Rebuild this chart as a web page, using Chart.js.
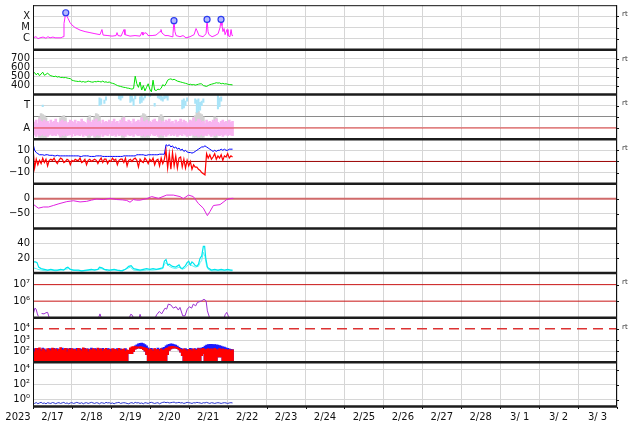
<!DOCTYPE html>
<html><head><meta charset="utf-8">
<script src="https://cdn.jsdelivr.net/npm/chart.js@4/dist/chart.umd.min.js"></script>
<style>html,body{margin:0;padding:0;background:#fff;}#wrap{position:relative;width:634px;height:424px;}</style>
</head><body><div id="wrap"><canvas id="c" width="634" height="424"></canvas></div>
<script>
// ---------- x axis ----------
const yearLabel = '2023';
const dayLabels = ['2/17','2/18','2/19','2/20','2/21','2/22','2/23','2/24','2/25','2/26','2/27','2/28','3/ 1','3/ 2','3/ 3'];
const rtText = 'rt';

// ---------- panel 1: X-ray flux (hours since 2/17 00:00, W/m2) ----------
const xrayT = [0,1.85,3.1,4.3,6.2,8.0,9.2,10.5,12.3,13.6,15.4,17.3,18.5,19.1,20.2,21.0,21.6,22.8,24.0,25.9,29.0,32.1,35.1,38.2,41.3,42.5,43.2,46.2,48.7,51.2,51.8,52.4,54.3,56.1,56.7,59.8,62.9,66.0,67.2,67.8,69.0,70.3,70.9,73.4,75.8,78.3,78.9,79.5,81.4,83.2,85.7,86.3,86.9,87.5,88.2,90.6,92.5,94.3,96.8,99.3,100.5,101.1,102.3,104.8,106.7,107.3,107.9,108.5,110.4,112.2,114.1,115.3,115.9,116.5,117.1,117.8,118.4,119.6,120.2,121.4,122.1,122.7,123.3];
const xrayV = [1.2e-6,1.5e-6,1.0e-6,1.2e-6,1.4e-6,1.1e-6,1.5e-6,1.2e-6,1.4e-6,1.2e-6,1.2e-6,1.2e-6,1.5e-6,2.3e-5,2.1e-4,1.0e-4,6.6e-5,2.8e-5,1.7e-5,1.0e-5,5.9e-6,4.3e-6,3.5e-6,2.8e-6,2.3e-6,6.6e-6,2.1e-6,1.9e-6,1.7e-6,1.9e-6,3.5e-6,1.9e-6,1.7e-6,6.6e-6,2.3e-6,1.7e-6,1.9e-6,1.7e-6,3.9e-6,2.1e-6,3.5e-6,2.8e-6,1.9e-6,1.9e-6,2.1e-6,4.3e-6,6.6e-6,3.2e-6,1.9e-6,1.9e-6,1.5e-6,2.8e-6,4.1e-5,4.3e-6,1.9e-6,1.5e-6,1.9e-6,1.2e-6,1.5e-6,2.3e-6,8.1e-6,5.3e-6,1.9e-6,1.5e-6,2.8e-6,5.3e-5,4.3e-6,2.3e-6,1.5e-6,1.9e-6,2.8e-6,1.0e-5,5.3e-5,1.5e-5,4.3e-6,8.1e-6,2.3e-6,6.6e-6,1.9e-6,1.5e-6,6.6e-6,1.9e-6,1.9e-6];
const flareT = [20.2,86.9,107.3,115.9];
const flareV = [2.1e-4,4.1e-5,5.3e-5,5.3e-5];
const xrayTicks = [1e-4,1e-5,1e-6];
const xrayTickLabels = ['X','M','C'];

// ---------- panel 2: solar wind speed (hourly, km/s) ----------
const speedV = [530,545,520,540,510,530,550,515,525,540,520,
510,505,500,505,495,500,490,492,488,490,485,480,478,460,
455,450,448,445,450,440,445,438,442,450,445,440,438,445,442,448,
445,440,450,438,442,435,440,430,425,420,
410,400,395,390,385,380,378,372,370,365,
360,368,505,420,380,440,350,400,340,380,
420,360,330,460,350,345,360,355,370,410,
395,420,460,470,475,465,470,460,450,445,
440,435,430,425,420,410,415,408,412,405,
410,415,420,418,400,395,390,400,410,415,
420,425,432,428,430,420,425,418,420,415,412,410,408];
const speedTicks = [400,500,600,700];

// ---------- panel 3: T / A activity (hourly ranges) ----------
const taPinkHi = [1.6,1.5,1.7,1.4,1.8,1.6,1.5,1.7,1.5,1.6,1.4,1.7,1.5,1.6,1.8,1.5,1.4,1.6,1.7,1.5,
1.6,1.4,1.5,1.7,1.6,1.5,1.7,1.4,1.6,1.5,1.8,1.6,1.5,1.4,1.7,1.6,1.5,1.7,1.6,1.8,
1.5,1.6,1.4,1.7,1.5,1.6,1.5,1.7,1.4,1.6,1.8,1.5,1.6,1.4,1.7,1.5,1.9,1.6,1.5,1.7,
1.6,1.4,1.8,1.5,1.6,1.7,1.5,1.9,1.6,1.5,1.7,1.4,1.6,1.5,1.7,1.8,1.6,1.5,1.7,1.4,
1.6,1.5,1.7,1.6,1.8,1.5,1.6,1.4,1.7,1.5,1.6,1.8,1.5,1.7,1.6,1.4,1.5,1.7,1.6,1.9,
1.5,1.6,1.8,1.7,1.5,1.6,1.4,1.7,1.5,1.6,1.5,1.7,1.6,1.8,1.5,1.4,1.6,1.7,1.5,1.6,
1.4,1.7,1.5,1.6];
const taPinkLo = [0.3,0.4,0.25,0.45,0.3,0.35,0.5,0.3,0.4,0.25,0.35,0.45,0.3,0.4,0.3,0.5,0.35,0.25,0.4,0.3,
0.45,0.3,0.35,0.4,0.25,0.5,0.3,0.4,0.35,0.3,0.45,0.25,0.4,0.3,0.35,0.5,0.3,0.4,0.25,0.35,
0.4,0.3,0.45,0.25,0.35,0.4,0.3,0.5,0.35,0.3,0.4,0.25,0.45,0.3,0.35,0.4,0.3,0.25,0.45,0.35,
0.3,0.4,0.25,0.5,0.35,0.3,0.4,0.3,0.45,0.25,0.35,0.4,0.3,0.5,0.35,0.3,0.4,0.25,0.35,0.45,
0.3,0.4,0.25,0.35,0.5,0.3,0.4,0.3,0.45,0.25,0.35,0.4,0.3,0.5,0.35,0.25,0.4,0.3,0.45,0.35,
0.3,0.4,0.25,0.35,0.45,0.3,0.4,0.3,0.5,0.35,0.25,0.4,0.3,0.45,0.35,0.3,0.4,0.25,0.35,0.45,
0.3,0.4,0.35,0.3];
const taGrayT  = [4,5,6,7,8,17,18,19,20,34,35,38,39,40,41,55,56,67,68,69,70,71,78,79,80,99,100,101,102,103,104,105,112,113];
const taGrayHi = [2.0,2.3,2.2,2.1,1.9,1.9,2.0,2.1,1.9,1.9,2.1,2.0,2.3,2.2,2.0,1.9,2.0,2.1,2.3,2.2,2.0,1.9,2.0,2.2,2.0,1.9,2.1,2.4,2.5,2.3,2.2,2.0,2.0,1.9];
const taGrayLo = [0.15,0.15,0.15,0.15,0.15,0.15,0.15,0.15,0.15,0.15,0.15,0.15,0.15,0.15,0.15,0.15,0.15,0.15,0.15,0.15,0.15,0.15,0.15,0.15,0.15,0.15,0.15,0.15,0.15,0.15,0.15,0.15,0.15,0.15];
const taBlueT  = [6,41,42,44,45,53,54,55,60,61,62,63,66,67,68,69,72,75,77,78,79,80,81,82,83,92,93,94,95,100,101,102,103,104,105,114,115,116];
const taBlueLo = [2.9,3.0,3.1,3.2,3.5,3.6,3.5,3.7,3.3,3.4,3.0,3.6,3.2,3.3,3.5,3.7,3.8,2.95,3.7,3.6,3.5,3.4,3.6,3.7,3.5,2.7,2.8,3.0,3.4,3.2,2.4,2.5,2.6,3.0,3.3,2.7,2.9,3.4];
const taBlueHi = [3.05,3.7,3.6,3.5,3.8,3.95,3.9,3.95,3.9,3.85,3.6,3.9,3.8,3.9,3.7,3.95,3.95,3.2,3.95,3.95,3.9,3.8,3.95,3.95,3.9,3.5,3.6,3.4,3.7,3.6,3.5,3.6,3.3,3.4,3.6,3.9,3.7,3.8];
const taAlertLevel = 1;
const taTicks = [1,2,3];
const taTickLabels = ['A','','T'];

// ---------- panel 4: IMF Bt / Bz (hourly, nT) ----------
const bzV = [12,-6,2,-3,1,-2,3,-1,2,-4,1,
2,1,3,0,-2,1,3,2,-1,0,2,1,-3,1,
0,2,1,1,3,-1,0,2,-3,1,2,0,1,2,1,-2,
1,3,-1,2,2,-2,1,0,3,1,
2,-3,1,2,2,-1,3,-4,1,2,
0,2,3,1,-5,2,0,-1,3,1,
-2,2,0,3,-3,1,2,-4,3,-2,
2,10,-6,7,-7,8,-4,5,-6,3,
4,-5,2,-6,1,-4,0,-7,-3,-5,
-5,-7,-8,-10,-11,-12,7,3,6,2,
4,7,2,5,3,6,1,5,4,7,3,5,4];
const btV = [16,10,8,7,6,6,6,5.5,6,6,5.5,
5.5,5.5,5,5,5.5,5,5,5,5,5,5,5,5,5,
5,5,5,5,4.5,4.5,5,5,5,5,4.5,4.5,4.5,4.5,5,5,
5,5,4.5,4.5,4.5,4.5,4.5,4.5,4.5,4.5,
4.5,4.5,4.5,4.5,4.5,5,5,5,5,5,
5,5,5,6,6,6,6,6,5.5,5.5,
6,6,6,6,6,6,6,6.5,6.5,6.5,
6.5,15,14,15,13,14,12,13,11,12,
10,11,9,10,8.5,8,8,7.5,8,9,
10,11,12,13,13,14,13,12,11,10,
9,10,9,10,10,11,10,11,10,10,11,11,11];
const bZeroLine = 0;
const bTicks = [-10,0,10];
const bTickLabels = ['\u221210','0','10'];

// ---------- panel 5: Dst (nT) ----------
const dstT = [0.2,3.3,6.4,9.5,12.5,16,20.8,24.9,29,33.1,36,39.3,43.4,47.5,51.6,55,57.8,59.8,61.9,64,66,70.1,73.2,77.3,82.4,86.5,90.6,92.7,95.8,98.8,101.9,105,107.5,109.1,111.2,115.3,119.4,122.5,123.5];
const dstV = [-19,-32,-28,-28,-23,-17,-10,-7,-11,-9,-5,-1,-3,1,-3,-4,-6,-12,-3,-5,-5,0,7,1,12,12,7,0,12,7,-16,-32,-57,-43,-23,-20,-3,1,1];
const dstZeroLine = 0;
const dstTicks = [-50,0];
const dstTickLabels = ['\u221250','0'];

// ---------- panel 6: two cyan indices ----------
const cyanAT = [0,1.5,2.5,3.5,5,7,9,11,13,15,17,19,20.5,21.5,23,25,28,30,33,36,38,40,41,42.5,44,47,50,52,55,57,59,60.5,62,64,66,68,70,72,74,76,78,80,81,82,83,84,86,88,90,91,92,94,95,96,97,98,99,100,101,102,103,104,105,105.8,106.5,107.5,108.5,110,112,114,116,118,120,122,123];
const cyanAV = [15,15,14,8,6,5,4,5,4,4,5,4,7,8,5,4,4,3,4,5,4,5,8,7,5,4,5,4,3,5,9,10,6,5,4,5,6,5,6,5,6,7,16,18,11,12,9,8,11,7,6,10,14,16,11,15,13,10,9,12,20,23,36,36,20,8,6,4,5,4,5,4,5,4,4];
const cyanBT = [0,2,3,5,8,11,14,17,20,22,24,28,32,36,40,42,46,50,54,58,60,62,66,70,74,78,80,81,82,84,86,88,90,92,94,96,98,100,102,103,104,105,106,107,108,110,114,118,122,123];
const cyanBV = [7,6,5,4,3,4,3,4,5,6,4,3,3,4,5,6,3,4,3,6,8,4,3,4,4,5,6,12,14,9,7,6,8,5,7,12,10,8,9,14,17,28,22,10,5,3,3,3,3,3];
const cyanTicks = [20,40];

// ---------- panel 7: electron flux ----------
const elecT = [0.2,1.2,1.9,2.7,3.3,3.8,5.3,6.8,8.0,9.0,9.9,10.5,40.5,41.3,42,42.5,59.5,60.2,61,61.8,62.3,65.5,66,66.6,67,75.5,76.2,77.9,79.3,81.4,82.4,83.4,84.9,86.5,88.2,89.6,90.6,92.3,93.7,95.1,96.4,97.8,98.8,100.3,101.3,103,104,105.4,106.7,107.5,108.7,109.2,118,118.4,119.4,120.4,121];
const elecV = [1.7e5,3.8e5,3.3e5,1.7e5,1.2e5,null,1.8e5,1.7e5,2.0e5,2.1e5,1.1e5,null,1.05e5,1.7e5,1.05e5,null,1.05e5,1.6e5,1.5e5,1.05e5,null,1.05e5,1.6e5,1.05e5,null,1.05e5,1.5e5,2.4e5,1.7e5,3.8e5,3.3e5,6.6e5,6.0e5,3.8e5,4.6e5,2.9e5,4.2e5,1.3e5,1.3e5,3.3e5,4.6e5,3.8e5,6.6e5,5.2e5,8.3e5,9.6e5,1.05e6,1.3e6,1.05e6,2.6e5,1.1e5,null,1.05e5,1.5e5,2.1e5,1.3e5,1.05e5];
const elecAlerts = [1e7,1e6];
const elecTicks = [1e6,1e7];
const elecTickLabels = ['10\u2076','10\u2077'];

// ---------- panel 8: proton flux (hourly ranges) ----------
const protonLo = [10,10,10,10,10,10,10,10,10,10,10,10,10,10,10,10,10,10,10,10,
10,10,10,10,10,10,10,10,10,10,10,10,10,10,10,10,10,10,10,10,
10,10,10,10,10,10,10,10,10,10,10,10,10,10,10,10,10,10,10,60,
60,60,90,150,180,200,190,170,140,100,50,10,10,10,10,10,10,10,10,10,
10,10,10,50,120,160,190,200,190,170,130,80,40,10,10,10,10,10,10,10,
10,10,10,10,40,60,10,10,10,10,10,10,10,10,30,30,30,10,10,10,
10,10,10,10];
const protonRedHi = [150,90,180,120,200,100,160,130,90,170,140,
110,190,130,160,100,150,210,120,140,180,90,160,130,170,
120,150,100,180,140,110,200,130,160,90,150,120,170,140,110,190,
130,160,100,150,180,120,140,90,170,130,
150,110,180,120,140,160,100,130,120,200,
240,260,265,250,230,260,240,220,200,180,
120,160,140,100,170,130,150,110,160,120,
140,180,200,240,260,270,250,230,210,180,
150,120,160,130,100,150,140,110,160,130,
120,170,140,160,180,130,150,170,140,160,
130,180,150,120,170,140,160,130,150,120,140,110,130];
const protonBlueHi = [120,170,140,180,150,130,190,160,120,140,170,
160,140,180,120,170,130,150,190,160,110,170,140,180,150,
160,130,180,120,170,150,140,180,120,160,130,190,150,170,160,140,
170,130,180,140,120,170,160,150,130,160,
140,170,120,160,150,130,170,100,80,150,
180,220,300,380,450,500,520,480,400,300,
200,150,180,130,160,140,190,150,170,200,
220,300,380,420,450,440,400,350,280,220,
180,160,140,170,150,130,180,160,140,170,
150,190,170,200,220,280,350,400,420,410,
400,390,380,350,320,280,250,230,200,180,160,150,140];
const protonAlert = 1e4;
const protonTicks = [1e2,1e3,1e4];
const protonTickLabels = ['10\u00b2','10\u00b3','10\u2074'];

// ---------- panel 9: bottom index (hourly) ----------
const lowV = [0.35,0.3,0.4,0.28,0.35,0.42,0.3,0.35,0.27,0.38,0.33,0.3,0.4,0.35,0.28,0.35,0.38,0.3,0.36,0.42,
0.3,0.35,0.27,0.35,0.38,0.3,0.35,0.42,0.35,0.3,0.38,0.27,0.35,0.38,0.3,0.35,0.42,0.35,0.3,0.38,
0.35,0.27,0.38,0.35,0.3,0.42,0.35,0.38,0.3,0.35,0.27,0.35,0.38,0.42,0.3,0.35,0.38,0.35,0.3,0.27,
0.35,0.38,0.3,0.42,0.35,0.38,0.3,0.35,0.27,0.38,0.35,0.3,0.38,0.42,0.35,0.3,0.35,0.38,0.27,0.35,
0.42,0.45,0.38,0.42,0.35,0.38,0.42,0.45,0.35,0.38,0.42,0.35,0.38,0.3,0.35,0.42,0.38,0.35,0.3,0.38,
0.35,0.42,0.38,0.35,0.3,0.38,0.35,0.42,0.35,0.3,0.38,0.35,0.3,0.35,0.38,0.35,0.3,0.35,0.38,0.35,
0.3,0.35,0.38,0.35];
const lowTicks = [1,1e2,1e4];
const lowTickLabels = ['10\u2070','10\u00b2','10\u2074'];

// ---------- helpers ----------
const pairs = (t, v) => t.map((x, i) => ({x, y: v[i]}));
const hourly = v => v.map((y, i) => ({x: i, y}));
const ranges = (t, lo, hi) => t.map((x, i) => ({x, y: [lo[i], hi[i]]}));
const hourlyRanges = (lo, hi) => hi.map((h, i) => ({x: i, y: [lo[i], h]}));
const flat = v => [{x: 0, y: v}, {x: 360, y: v}];

const FONT = {family: 'DejaVu Sans', size: 10};
const GRID = '#d6d6d6';
const NONE = 'rgba(0,0,0,0)';

function panel(weight, type, min, max, vals, labels, gridColors) {
  return {
    type, min, max, position: 'left', stack: 'panels', stackWeight: 1, weight, offset: false,
    grid: {drawTicks: false, lineWidth: 1, color: c => {
      const k = vals.indexOf(c.tick ? c.tick.value : NaN);
      return k < 0 ? NONE : ((gridColors && gridColors[k]) || GRID);
    }},
    border: {display: false},
    afterBuildTicks: s => { s.ticks = vals.map(v => ({value: v})); },
    afterFit: s => { s.width = 33; s.paddingTop = 0; s.paddingBottom = 0; },
    ticks: {autoSkip: false, padding: 3, font: FONT, color: '#111',
      callback: (v, i) => labels ? labels[i] : String(v)}
  };
}

function line(id, data, color, width, extra) {
  return Object.assign({type: 'line', yAxisID: id, data, borderColor: color, backgroundColor: color,
    borderWidth: width, pointRadius: 0, tension: 0, spanGaps: false, fill: false, order: 5}, extra || {});
}
function bars(id, data, color, extra) {
  return Object.assign({type: 'bar', yAxisID: id, data, backgroundColor: color, borderWidth: 0,
    barThickness: 2, grouped: false, order: 8}, extra || {});
}

const panelIds = ['yX','yV','yTA','yB','yD','yK','yE','yP','yN'];
const rtPanels = ['yX','yV','yTA','yB','yE','yP'];
const panelTicks = {yX: xrayTicks, yV: speedTicks, yTA: taTicks, yB: bTicks, yD: dstTicks, yK: cyanTicks, yE: elecTicks, yP: protonTicks, yN: lowTicks};

const framePlugin = {
  id: 'frame',
  afterDatasetsDraw(chart) {
    const {ctx, chartArea: a} = chart;
    ctx.save();
    ctx.strokeStyle = '#111';
    ctx.lineWidth = 1;
    ctx.beginPath();
    ctx.moveTo(a.left + 0.5, a.top); ctx.lineTo(a.left + 0.5, a.bottom);
    ctx.moveTo(a.right - 0.5, a.top); ctx.lineTo(a.right - 0.5, a.bottom);
    ctx.moveTo(a.left, a.top + 0.5); ctx.lineTo(a.right, a.top + 0.5);
    // small outer ticks on the right edge
    panelIds.forEach(id => {
      const sc = chart.scales[id];
      panelTicks[id].forEach(v => { const y = Math.round(sc.getPixelForValue(v)) + 0.5; ctx.moveTo(a.right, y); ctx.lineTo(a.right + 2, y); });
    });
    // day ticks below the bottom axis
    const xs = chart.scales.x;
    for (let h = 0; h <= 360; h += 24) { const x = Math.round(xs.getPixelForValue(h)) + 0.5; ctx.moveTo(x, a.bottom); ctx.lineTo(x, a.bottom + 2); }
    ctx.stroke();
    ctx.strokeStyle = '#1c1c1c';
    ctx.lineWidth = 2.5;
    ctx.beginPath();
    panelIds.slice(1).forEach(id => {
      const y = chart.scales[id].top;
      ctx.moveTo(a.left, y); ctx.lineTo(a.right, y);
    });
    ctx.moveTo(a.left, a.bottom - 0.5); ctx.lineTo(a.right, a.bottom - 0.5);
    ctx.stroke();
    ctx.font = '7px "DejaVu Sans"';
    ctx.fillStyle = '#333';
    ctx.textBaseline = 'middle';
    ctx.textAlign = 'left';
    rtPanels.forEach(id => ctx.fillText(rtText, a.right + 5, chart.scales[id].top + 9));
    ctx.font = '10px "DejaVu Sans"';
    ctx.fillStyle = '#111';
    ctx.textAlign = 'center';
    ctx.fillText(yearLabel, 18, a.bottom + 10);
    ctx.restore();
  }
};

const datasets = [
  // panel 1
  line('yX', pairs(flareT, flareV), '#2233ee', 0, {showLine: false, pointRadius: 3, pointBorderWidth: 1.2,
    pointBorderColor: '#2a3cf0', pointBackgroundColor: '#b4b8ff', order: 0}),
  line('yX', pairs(xrayT, xrayV), '#ff22ff', 1),
  // panel 2
  line('yV', hourly(speedV), '#00e000', 1),
  // panel 3
  line('yTA', flat(taAlertLevel), '#e03a3a', 1, {order: 1}),
  bars('yTA', hourlyRanges(taPinkLo, taPinkHi), '#f8b4f0', {order: 7}),
  bars('yTA', ranges(taGrayT, taGrayLo, taGrayHi), '#d2d2d2', {order: 9}),
  bars('yTA', ranges(taBlueT, taBlueLo, taBlueHi), '#a8e4f8', {order: 7, barThickness: 1.4}),
  // panel 4
  line('yB', flat(bZeroLine), '#9b0000', 1, {order: 9}),
  line('yB', hourly(btV), '#0000ff', 1, {order: 6}),
  line('yB', hourly(bzV), '#ff0000', 1.2, {order: 5}),
  // panel 5
  line('yD', flat(dstZeroLine), '#d06a6a', 2, {order: 9}),
  line('yD', pairs(dstT, dstV), '#e020e0', 1),
  // panel 6
  line('yK', pairs(cyanBT, cyanBV), '#60f4f4', 1, {order: 6}),
  line('yK', pairs(cyanAT, cyanAV), '#00e6ee', 1.2),
  // panel 7
  line('yE', flat(elecAlerts[0]), '#c81414', 1, {order: 9}),
  line('yE', flat(elecAlerts[1]), '#c81414', 1, {order: 9}),
  line('yE', pairs(elecT, elecV), '#9b30d0', 1),
  // panel 8
  line('yP', flat(protonAlert), '#dd3333', 1.5, {borderDash: [10, 6], order: 9}),
  bars('yP', hourlyRanges(protonLo, protonBlueHi), '#1a1aff', {order: 8}),
  bars('yP', hourlyRanges(protonLo, protonRedHi), '#ff0000', {order: 7}),
  // panel 9
  line('yN', hourly(lowV), '#2a36d0', 1)
];

new Chart(document.getElementById('c'), {
  type: 'line',
  data: {datasets},
  options: {
    responsive: false, animation: false, devicePixelRatio: 1,
    layout: {padding: {left: 0, right: 17, top: 2, bottom: 0}},
    plugins: {legend: {display: false}, tooltip: {enabled: false}},
    scales: {
      x: {
        type: 'linear', min: 0, max: 360, position: 'bottom', offset: false,
        grid: {offset: false, drawTicks: false, lineWidth: 1,
          color: c => (c.tick && c.tick.value % 24 === 0) ? GRID : NONE},
        border: {display: false},
        afterBuildTicks: s => { const t = []; for (let h = 0; h <= 360; h += 12) t.push({value: h}); s.ticks = t; },
        afterFit: s => { s.height = 17; s.paddingLeft = 0; s.paddingRight = 0; },
        ticks: {autoSkip: false, maxRotation: 0, minRotation: 0, padding: 4, font: FONT, color: '#111',
          callback: v => (v % 24 === 12) ? dayLabels[(v - 12) / 24] : ''}
      },
      yX: panel(9, 'logarithmic', 1e-7, 1e-3, xrayTicks, xrayTickLabels),
      yV: panel(8, 'linear', 300, 800, speedTicks, null),
      yTA: panel(7, 'linear', 0, 4, taTicks, taTickLabels, [GRID, '#8a8a8a', GRID]),
      yB: panel(6, 'linear', -20, 20, bTicks, bTickLabels, [GRID, NONE, GRID]),
      yD: panel(5, 'linear', -100, 50, dstTicks, dstTickLabels, [GRID, NONE]),
      yK: panel(4, 'linear', 0, 60, cyanTicks, null),
      yE: panel(3, 'logarithmic', 1e5, 5e7, elecTicks, elecTickLabels, [NONE, NONE]),
      yP: panel(2, 'logarithmic', 10, 1e5, protonTicks, protonTickLabels, [GRID, GRID, NONE]),
      yN: panel(1, 'logarithmic', 0.1, 1e5, lowTicks, lowTickLabels)
    }
  },
  plugins: [framePlugin]
});
</script></body></html>
